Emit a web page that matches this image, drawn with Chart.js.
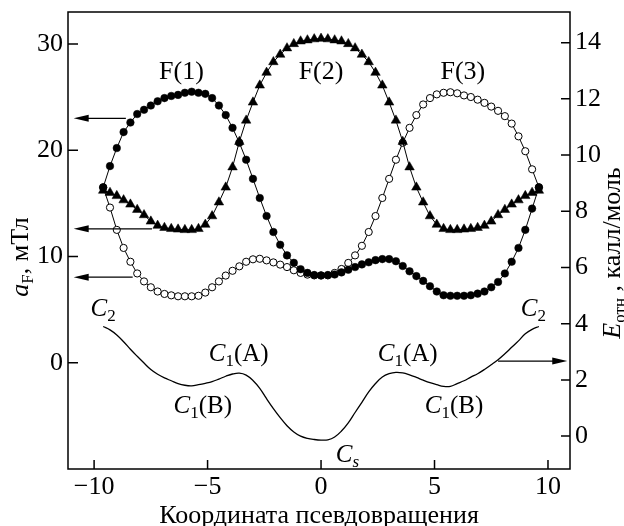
<!DOCTYPE html>
<html>
<head>
<meta charset="utf-8">
<script src="https://cdn.jsdelivr.net/npm/chart.js@4.4.1/dist/chart.umd.min.js"></script>
<style>
  html, body { margin: 0; padding: 0; background: #fff; }
  #wrap { width: 624px; height: 526px; }
</style>
</head>
<body>
<div id="wrap"><canvas id="chart" width="624" height="526"></canvas></div>
<script>
// pseudorotation coordinate of the computed points
const coord = [
    -9.6, -9.3, -9.0, -8.7, -8.4, -8.1, -7.8, -7.5, -7.2, -6.9, -6.6, -6.3, -6.0,
    -5.7, -5.4, -5.1, -4.8, -4.5, -4.2, -3.9, -3.6, -3.3, -3.0, -2.7, -2.4, -2.1,
    -1.8, -1.5, -1.2, -0.9, -0.6, -0.3, 0.0, 0.3, 0.6, 0.9, 1.2, 1.5, 1.8, 2.1,
    2.4, 2.7, 3.0, 3.3, 3.6, 3.9, 4.2, 4.5, 4.8, 5.1, 5.4, 5.7, 6.0, 6.3, 6.6,
    6.9, 7.2, 7.5, 7.8, 8.1, 8.4, 8.7, 9.0, 9.3, 9.6
];

// a_F, mT
const aF1 = [
    16.5, 18.5, 20.2, 21.7, 22.6, 23.4, 23.8, 24.2, 24.6, 24.9, 25.1, 25.2, 25.4,
    25.5, 25.4, 25.3, 24.9, 24.2, 23.3, 22.1, 20.7, 19.1, 17.3, 15.5, 13.8, 12.3,
    11.1, 10.1, 9.4, 8.8, 8.45, 8.25, 8.2, 8.25, 8.3, 8.5, 8.75, 9.0, 9.25, 9.45,
    9.65, 9.75, 9.75, 9.55, 9.1, 8.6, 8.15, 7.7, 7.2, 6.7, 6.35, 6.3, 6.3, 6.3, 6.35,
    6.5, 6.7, 7.1, 7.6, 8.4, 9.5, 10.8, 12.5, 14.5, 16.5
];
const aF2 = [
    16.2, 16.0, 15.7, 15.3, 14.9, 14.4, 13.9, 13.3, 12.9, 12.7, 12.6, 12.55, 12.5,
    12.5, 12.6, 13.0, 13.8, 15.1, 16.5, 18.4, 20.8, 22.8, 24.5, 26.1, 27.3, 28.3,
    29.0, 29.6, 30.0, 30.25, 30.35, 30.45, 30.5, 30.45, 30.35, 30.25, 30.0, 29.6, 29.0, 28.3,
    27.3, 26.1, 24.5, 22.8, 20.8, 18.4, 16.5, 15.1, 13.8, 13.0, 12.6, 12.5, 12.5, 12.55, 12.6,
    12.7, 12.9, 13.3, 13.9, 14.4, 14.9, 15.3, 15.7, 16.0, 16.2
];
const aF3 = [
    16.5, 14.6, 12.5, 10.8, 9.5, 8.4, 7.65, 7.1, 6.7, 6.47, 6.34, 6.25, 6.25,
    6.25, 6.3, 6.6, 7.1, 7.65, 8.2, 8.65, 9.07, 9.5, 9.73, 9.78, 9.63, 9.44,
    9.23, 9.0, 8.7, 8.45, 8.29, 8.22, 8.22, 8.22, 8.45, 8.82, 9.39, 10.1, 11.0, 12.3,
    13.8, 15.5, 17.3, 19.1, 20.7, 22.1, 23.3, 24.3, 24.9, 25.25, 25.4, 25.45, 25.35, 25.15, 25.0,
    24.75, 24.45, 24.1, 23.7, 23.2, 22.5, 21.3, 19.9, 18.2, 16.5
];

// relative energy, kcal/mol
const energy = [
    3.9, 3.78, 3.6, 3.36, 3.09, 2.84, 2.6, 2.37, 2.2, 2.07, 1.97, 1.87, 1.81,
    1.79, 1.83, 1.88, 1.94, 2.03, 2.13, 2.21, 2.24, 2.17, 1.98, 1.7, 1.33, 0.98,
    0.66, 0.37, 0.15, 0.0, -0.08, -0.12, -0.14, -0.13, -0.03, 0.18, 0.47, 0.84, 1.2, 1.57,
    1.87, 2.1, 2.22, 2.27, 2.25, 2.18, 2.09, 1.99, 1.9, 1.83, 1.77, 1.77, 1.87, 1.97, 2.1,
    2.22, 2.37, 2.54, 2.72, 2.93, 3.16, 3.39, 3.64, 3.8, 3.9
];

const xTicks = [-10, -5, 0, 5, 10];
const aTicks = [0, 10, 20, 30];
const eTicks = [0, 2, 4, 6, 8, 10, 12, 14];

const SERIF = "'Liberation Serif', 'Times New Roman', serif";

function pts(ys) {
    return coord.map((x, i) => ({ x: x, y: ys[i] }));
}
function fmt(v) {
    return v < 0 ? '\u2212' + Math.abs(v) : String(v);
}

// draw a run of text pieces: [text, size, italic, dy]
function rich(ctx, parts, x, y, align) {
    let w = 0;
    parts.forEach(p => {
        ctx.font = (p[2] ? 'italic ' : '') + p[1] + 'px ' + SERIF;
        w += ctx.measureText(p[0]).width;
    });
    let cx = align === 'center' ? x - w / 2 : x;
    parts.forEach(p => {
        ctx.font = (p[2] ? 'italic ' : '') + p[1] + 'px ' + SERIF;
        ctx.fillText(p[0], cx, y + (p[3] || 0));
        cx += ctx.measureText(p[0]).width;
    });
}

function arrow(ctx, x1, x2, y) {
    const dir = x2 > x1 ? 1 : -1;
    ctx.beginPath();
    ctx.moveTo(x1, y);
    ctx.lineTo(x2 - dir * 10, y);
    ctx.stroke();
    ctx.beginPath();
    ctx.moveTo(x2, y);
    ctx.lineTo(x2 - dir * 15, y - 3.5);
    ctx.lineTo(x2 - dir * 15, y + 3.5);
    ctx.closePath();
    ctx.fill();
}

const decor = {
    id: 'decor',
    afterDraw(chart) {
        const ctx = chart.ctx;
        const a = chart.chartArea;
        const sx = chart.scales.x, sa = chart.scales.yA, se = chart.scales.yE;
        ctx.save();
        ctx.strokeStyle = '#000';
        ctx.fillStyle = '#000';

        // frame and inward ticks
        ctx.lineWidth = 1.5;
        ctx.strokeRect(a.left, a.top, a.right - a.left, a.bottom - a.top);
        ctx.beginPath();
        xTicks.forEach(v => {
            const p = sx.getPixelForValue(v);
            ctx.moveTo(p, a.bottom);
            ctx.lineTo(p, a.bottom - 9);
        });
        aTicks.forEach(v => {
            const p = sa.getPixelForValue(v);
            ctx.moveTo(a.left, p);
            ctx.lineTo(a.left + 10, p);
        });
        eTicks.forEach(v => {
            const p = se.getPixelForValue(v);
            ctx.moveTo(a.right, p);
            ctx.lineTo(a.right - 9, p);
        });
        ctx.stroke();

        // arrows pointing to the axes
        ctx.lineWidth = 1.2;
        [[-8.6, 23.0], [-7.45, 12.6], [-8.3, 8.05]].forEach(r => {
            arrow(ctx, sx.getPixelForValue(r[0]), sx.getPixelForValue(-10.9), sa.getPixelForValue(r[1]));
        });
        arrow(ctx, sx.getPixelForValue(7.8), sx.getPixelForValue(10.85), se.getPixelForValue(2.67));

        // curve labels
        ctx.textBaseline = 'alphabetic';
        [['F(1)', -6.15], ['F(2)', 0.0], ['F(3)', 6.25]].forEach(l => {
            rich(ctx, [[l[0], 26, false]], sx.getPixelForValue(l[1]), sa.getPixelForValue(26.74), 'center');
        });
        const c2 = [['C', 25, true], ['2', 17, false, 5]];
        const c1a = [['C', 25, true], ['1', 17, false, 5], ['(A)', 25, false]];
        const c1b = [['C', 25, true], ['1', 17, false, 5], ['(B)', 25, false]];
        const cs = [['C', 25, true], ['s', 17, true, 5]];
        [[c2, -10.16, 4.28], [c1a, -4.95, 2.68], [c1b, -6.5, 0.83], [cs, 0.65, -0.91],
         [c1a, 2.5, 2.68], [c1b, 4.57, 0.83], [c2, 8.8, 4.28]].forEach(l => {
            rich(ctx, l[0], sx.getPixelForValue(l[1]), se.getPixelForValue(l[2]), 'left');
        });

        // axis titles
        rich(ctx, [['Координата псевдовращения', 26, false]], (a.left + a.right) / 2, 523, 'center');
        ctx.save();
        ctx.translate(28, 257);
        ctx.rotate(-Math.PI / 2);
        rich(ctx, [['a', 26, true], ['F', 17, false, 5], [', мТл', 26, false]], 0, 0, 'center');
        ctx.restore();
        ctx.save();
        ctx.translate(620, 253);
        ctx.rotate(-Math.PI / 2);
        rich(ctx, [['E', 26, true], ['отн', 17, false, 5], [' , калл/моль', 26, false]], 0, 0, 'center');
        ctx.restore();

        ctx.restore();
    }
};

const tickFont = { family: SERIF, size: 26 };
const noGrid = { display: false, drawTicks: false };

// keep the plot box where it is in the figure
function noPad(s) {
    s.paddingTop = 0;
    s.paddingBottom = 0;
    s.paddingLeft = 0;
    s.paddingRight = 0;
}

new Chart(document.getElementById('chart'), {
    type: 'line',
    data: {
        datasets: [
            {
                label: 'F(1)', data: pts(aF1), yAxisID: 'yA',
                borderColor: '#000', borderWidth: 1, tension: 0,
                pointStyle: 'circle', pointRadius: 3.8,
                pointBackgroundColor: '#000', pointBorderColor: '#000', pointBorderWidth: 0.5
            },
            {
                label: 'F(2)', data: pts(aF2), yAxisID: 'yA',
                borderColor: '#000', borderWidth: 1, tension: 0,
                pointStyle: 'triangle', pointRadius: 5.5,
                pointBackgroundColor: '#000', pointBorderColor: '#000', pointBorderWidth: 0.5
            },
            {
                label: 'F(3)', data: pts(aF3), yAxisID: 'yA',
                borderColor: '#000', borderWidth: 1, tension: 0,
                pointStyle: 'circle', pointRadius: 3.6,
                pointBackgroundColor: '#fff', pointBorderColor: '#000', pointBorderWidth: 1
            },
            {
                label: 'E', data: pts(energy), yAxisID: 'yE',
                borderColor: '#000', borderWidth: 1.3, tension: 0.4,
                pointRadius: 0
            }
        ]
    },
    options: {
        responsive: false,
        animation: false,
        layout: { padding: { top: 12, left: 0, right: 0, bottom: 0 } },
        plugins: { legend: { display: false }, tooltip: { enabled: false } },
        scales: {
            x: {
                type: 'linear', min: -11.15, max: 10.97,
                grid: noGrid, border: { display: false },
                afterBuildTicks: s => { s.ticks = xTicks.map(v => ({ value: v })); },
                afterFit: s => { s.height = 57; noPad(s); },
                ticks: { color: '#000', font: tickFont, padding: 3, maxRotation: 0, callback: fmt }
            },
            yA: {
                position: 'left', min: -10, max: 33,
                grid: noGrid, border: { display: false },
                afterBuildTicks: s => { s.ticks = aTicks.map(v => ({ value: v })); },
                afterFit: s => { s.width = 68; noPad(s); },
                ticks: { color: '#000', font: tickFont, padding: 5, callback: fmt }
            },
            yE: {
                position: 'right', min: -1.17, max: 15.09,
                grid: noGrid, border: { display: false },
                afterBuildTicks: s => { s.ticks = eTicks.map(v => ({ value: v })); },
                afterFit: s => { s.width = 54; noPad(s); },
                ticks: { color: '#000', font: tickFont, padding: 5, callback: fmt }
            }
        }
    },
    plugins: [decor]
});
</script>
</body>
</html>
